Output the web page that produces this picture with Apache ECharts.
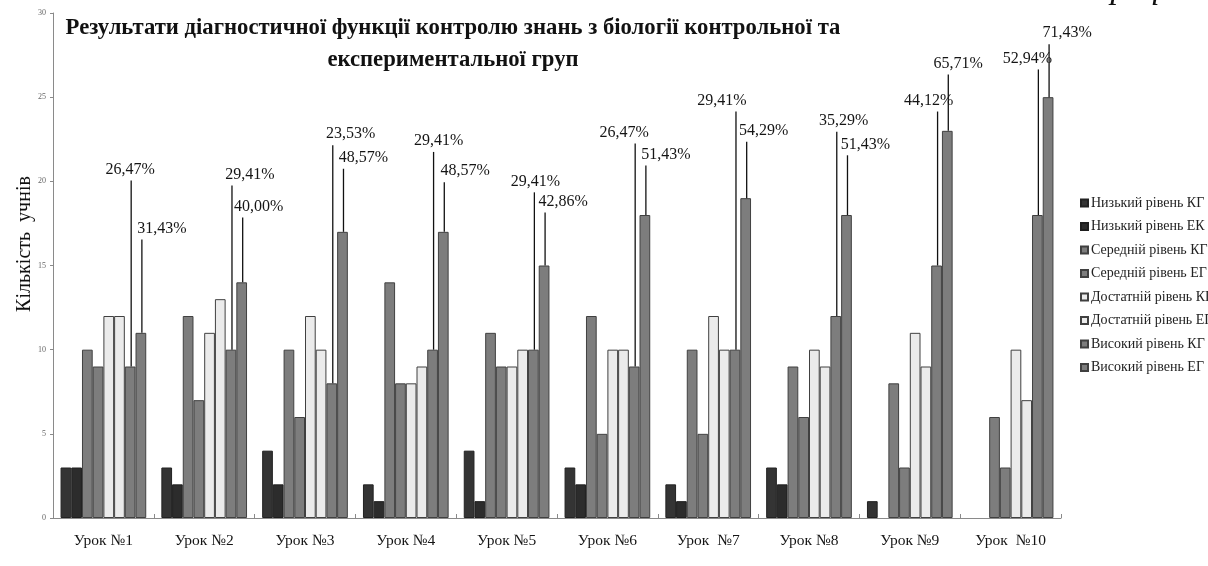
<!DOCTYPE html>
<html>
<head>
<meta charset="utf-8">
<script src="https://cdn.jsdelivr.net/npm/echarts@6/dist/echarts.min.js"></script>
<style>
html,body{margin:0;padding:0;background:#fff;}
#chart{width:1208px;height:566px;}
</style>
</head>
<body>
<div id="chart"></div>
<script>
// ---- data ----
const categories = ['Урок №1','Урок №2','Урок №3','Урок №4','Урок №5','Урок №6','Урок  №7','Урок №8','Урок №9','Урок  №10'];
const seriesNames = ['Низький рівень КГ','Низький рівень ЕК','Середній рівень КГ','Середній рівень ЕГ','Достатній рівень КГ','Достатній рівень ЕГ','Високий рівень КГ','Високий рівень ЕГ'];
const lowKG  = [3, 3, 4, 2, 4, 3, 2, 3, 1, 0];
const lowEK  = [3, 2, 2, 1, 1, 2, 1, 2, 0, 0];
const midKG  = [10, 12, 10, 14, 11, 12, 10, 9, 8, 6];
const midEG  = [9, 7, 6, 8, 9, 5, 5, 6, 3, 3];
const sufKG  = [12, 11, 12, 8, 9, 10, 12, 10, 11, 10];
const sufEG  = [12, 13, 10, 9, 10, 10, 10, 9, 9, 7];
const highKG = [9, 10, 8, 10, 10, 9, 10, 12, 15, 18];
const highEG = [11, 14, 17, 17, 15, 18, 19, 18, 23, 25];
const pctKG = ['26,47%','29,41%','23,53%','29,41%','29,41%','26,47%','29,41%','35,29%','44,12%','52,94%'];
const pctEG = ['31,43%','40,00%','48,57%','48,57%','42,86%','51,43%','54,29%','51,43%','65,71%','71,43%'];
const yTicks = [0, 5, 10, 15, 20, 25, 30];

// ---- layout of the percentage call-outs (axis level of label, x shift in px) ----
const levelKG = [20.7, 20.4, 22.8, 22.4, 20.0, 22.9, 24.8, 23.6, 24.8, 27.3];
const levelEG = [17.2, 18.5, 21.4, 20.6, 18.8, 21.6, 23.0, 22.2, 27.0, 28.8];
const dxKG = [-1, 18, 18, 5, 1, -11, -14, 7, -9, -11];
const dxEG = [20, 16, 20, 21, 18, 20, 17, 18, 10, 18];

const CAT_GAP = 0.15;
const FONT = '"Liberation Serif", "Times New Roman", serif';
const values = [lowKG, lowEK, midKG, midEG, sufKG, sufEG, highKG, highEG];
const fills = ['#343434', '#2c2c2c', '#7d7d7d', '#7d7d7d', '#ebebeb', '#ebebeb', '#7d7d7d', '#7d7d7d'];
const borders = ['#222', '#1e1e1e', '#404040', '#404040', '#404040', '#404040', '#404040', '#404040'];

const barSeries = seriesNames.map((n, k) => ({
  name: n, type: 'bar',
  data: values[k].map(v => v === 0 ? { value: v, itemStyle: { borderWidth: 0 } } : v),
  barGap: '0%', barCategoryGap: (CAT_GAP * 100) + '%',
  itemStyle: { color: fills[k], borderColor: borders[k], borderWidth: 1 },
  animation: false
}));

function calloutSeries(barIdx, vals, texts, levels, dxs) {
  return {
    type: 'custom', silent: true, z: 10, animation: false,
    data: vals.map((v, i) => [i, v, levels[i], dxs[i]]),
    encode: { x: 0, y: 1 },
    renderItem: function (params, api) {
      const i = api.value(0), v = api.value(1), lv = api.value(2), dx = api.value(3);
      const top = api.coord([i, v]);
      const lab = api.coord([i, lv]);
      const cw = api.size([1, 0])[0];
      const gw = cw * (1 - CAT_GAP);
      const bw = gw / 8;
      const x = top[0] - gw / 2 + (barIdx + 0.5) * bw + 1;
      return {
        type: 'group',
        children: [
          { type: 'line', shape: { x1: x, y1: lab[1] + 11, x2: x, y2: top[1] }, style: { stroke: '#111', lineWidth: 1.3 } },
          { type: 'text', style: { text: texts[i], x: x + dx, y: lab[1], align: 'center', verticalAlign: 'middle', fontSize: 16, fontFamily: FONT, fill: '#151515' } }
        ]
      };
    }
  };
}

const chart = echarts.init(document.getElementById('chart'), null, { renderer: 'canvas' });
chart.setOption({
  backgroundColor: '#fff',
  animation: false,
  grid: { left: 53, right: 147, top: 13, bottom: 48, containLabel: false },
  legend: {
    data: seriesNames, orient: 'vertical', left: 1075, top: 191,
    itemWidth: 7, itemHeight: 7, itemGap: 9.5, icon: 'rect',
    textStyle: { fontFamily: FONT, fontSize: 14, color: '#222', lineHeight: 14, padding: [0, 0, 0, -2] },
    selectedMode: false
  },
  xAxis: {
    type: 'category', data: categories,
    axisLine: { lineStyle: { color: '#8a8a8a', width: 1 } },
    axisTick: { show: true, inside: true, length: 4, lineStyle: { color: '#8a8a8a' } },
    axisLabel: { fontFamily: FONT, fontSize: 15.5, color: '#151515', margin: 15 }
  },
  yAxis: {
    type: 'value', min: yTicks[0], max: yTicks[yTicks.length - 1], interval: yTicks[1] - yTicks[0],
    splitLine: { show: false },
    axisLine: { show: true, lineStyle: { color: '#8a8a8a', width: 1 } },
    axisTick: { show: true, length: 3, lineStyle: { color: '#8a8a8a' } },
    axisLabel: { fontFamily: FONT, fontSize: 8, color: '#666', margin: 7 }
  },
  graphic: [
    { type: 'text', style: { text: 'Результати діагностичної функції контролю знань з біології контрольної та\nекспериментальної груп', x: 453, y: 12, align: 'center', verticalAlign: 'top', fontFamily: FONT, fontWeight: 'bold', fontSize: 22.7, lineHeight: 32, fill: '#111' } },
    { type: 'text', rotation: Math.PI / 2, x: 25, y: 244, style: { text: 'Кількість  учнів', x: 0, y: 0, align: 'center', verticalAlign: 'middle', fontFamily: FONT, fontSize: 20, fill: '#111' } },
    { type: 'text', style: { text: 'Графік', x: 1092, y: -11, align: 'left', verticalAlign: 'middle', fontFamily: FONT, fontStyle: 'italic', fontSize: 34, fill: '#111' } }
  ],
  series: barSeries.concat([
    calloutSeries(6, highKG, pctKG, levelKG, dxKG),
    calloutSeries(7, highEG, pctEG, levelEG, dxEG)
  ])
});
</script>
</body>
</html>
